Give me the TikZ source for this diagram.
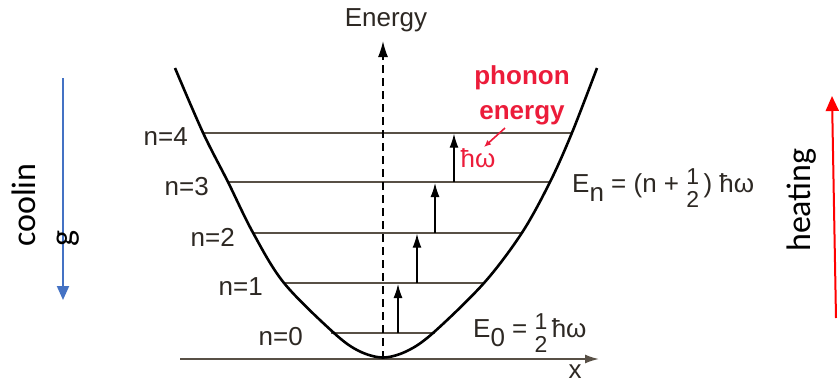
\documentclass[tikz,border=0pt]{standalone}
\usepackage{fontspec}
\setmainfont{Liberation Sans}
\newfontfamily\carl{Carlito}
\usetikzlibrary{arrows.meta}
\definecolor{lvl}{RGB}{88,80,70}
\definecolor{txt}{RGB}{45,40,35}
\definecolor{pred}{RGB}{236,28,58}
\definecolor{cblue}{RGB}{68,114,196}
\newcommand\halfstack{\raisebox{-15pt}{\fontsize{23}{20}\selectfont\begin{tabular}[b]{@{}c@{}}1\\2\end{tabular}}}
\newcommand\subl[1]{\raisebox{-9pt}{#1}}
\begin{document}
\begin{tikzpicture}[x=1pt,y=-1pt,
  lbl/.style={text=txt, font=\fontsize{26}{30}\selectfont, inner sep=0pt},
  level/.style={draw=lvl, line width=1.8pt},
  jump/.style={draw=black, line width=1.4pt, -{Latex[length=14pt,width=9pt]}},
  side/.style={font=\carl\fontsize{34}{40}\selectfont, inner sep=0pt, rotate=90, text=black}]
\useasboundingbox (0,0) rectangle (839,384);
\fill[white] (0,0) rectangle (839,384);
% curve points
\coordinate (topl) at (175,68);  \coordinate (topr) at (597,68);
\coordinate (L4a) at (203,132.7); \coordinate (L4b) at (572,132.7);
\coordinate (L3a) at (228,182);   \coordinate (L3b) at (550,182);
\coordinate (L2a) at (253,232.7); \coordinate (L2b) at (522,232.7);
\coordinate (L1a) at (284,283);   \coordinate (L1b) at (484,283);
\coordinate (L0a) at (334,333);   \coordinate (L0b) at (433,333);
\coordinate (bl) at (359,351);  \coordinate (br) at (407,351);
\coordinate (bot) at (383,357.5);
% levels
\draw[level] (L4a) -- (L4b);
\draw[level] (L3a) -- (L3b);
\draw[level] (L2a) -- (L2b);
\draw[level] (L1a) -- (L1b);
\draw[level] ([xshift=-3pt]L0a) -- ([xshift=2pt]L0b);
% x axis
\coordinate (xs) at (180,359); \coordinate (xe) at (599,359);
\draw[draw=lvl, line width=1.8pt, -{Latex[length=14pt,width=9pt]}] (xs) -- (xe);
\node[lbl] (xlab) at (575,372) {x};
% energy axis
\coordinate (es) at (383,359); \coordinate (et) at (383,41);
\draw[line width=1.6pt, dash pattern=on 8pt off 5pt, -{Latex[length=16pt,width=10pt]}] (es) -- (et);
\node[lbl] (energy) at (386,20) {Energy};
% potential curve
\draw[black, line width=2.6pt] plot[smooth, tension=0.55] coordinates {(topl) (L4a) (L3a) (L2a) (L1a) (L0a) (bl) (bot) (br) (L0b) (L1b) (L2b) (L3b) (L4b) (topr)};
% transitions
\coordinate (a0s) at (398,333); \coordinate (a0e) at (398,284);
\coordinate (a1s) at (417,283);   \coordinate (a1e) at (417,233.7);
\coordinate (a2s) at (435,232.7); \coordinate (a2e) at (435,183);
\coordinate (a3s) at (454,182);   \coordinate (a3e) at (454,133.7);
\draw[jump] (a0s) -- (a0e);
\draw[jump] (a1s) -- (a1e);
\draw[jump] (a2s) -- (a2e);
\draw[jump] (a3s) -- (a3e);
% level labels
\node[lbl, anchor=east] (n4) at (188,137) {n=4};
\node[lbl, anchor=east] (n3) at (209,187) {n=3};
\node[lbl, anchor=east] (n2) at (235,237) {n=2};
\node[lbl, anchor=east] (n1) at (263,287) {n=1};
\node[lbl, anchor=east] (n0) at (303,337) {n=0};
% formulas
\node[lbl, anchor=base west] (En) at (572,192) {E\subl{n} = (n + \halfstack\,) ħω};
\node[lbl, anchor=base west] (E0) at (473,337) {E\subl{0} = \halfstack\,ħω};
% phonon energy
\node[text=pred, font=\bfseries\fontsize{26}{35}\selectfont, align=center, inner sep=0pt] (phon) at (522,95) {phonon\\energy};
\node[text=pred, font=\fontsize{26}{30}\selectfont, inner sep=0pt] (hw) at (478,158) {ħω};
\coordinate (ps) at (505,128); \coordinate (pe) at (484,147);
\draw[pred, line width=1.6pt, -{Latex[length=7pt,width=6pt]}] (ps) -- (pe);
% cooling
\coordinate (cs) at (63,78); \coordinate (ce) at (63,300);
\draw[cblue, line width=2pt, -{Triangle[length=14pt,width=12pt]}] (cs) -- (ce);
\node[side, anchor=base west] (cool1) at (35,247) {coolin};
\node[side, anchor=base west] (cool2) at (73,247) {g};
% heating
\coordinate (hs) at (836,318); \coordinate (he) at (832,96);
\draw[red, line width=2pt, -{Triangle[length=15pt,width=13pt]}] (hs) -- (he);
\node[side, anchor=base] (heat) at (810,200) {heating};
\end{tikzpicture}
\end{document}
